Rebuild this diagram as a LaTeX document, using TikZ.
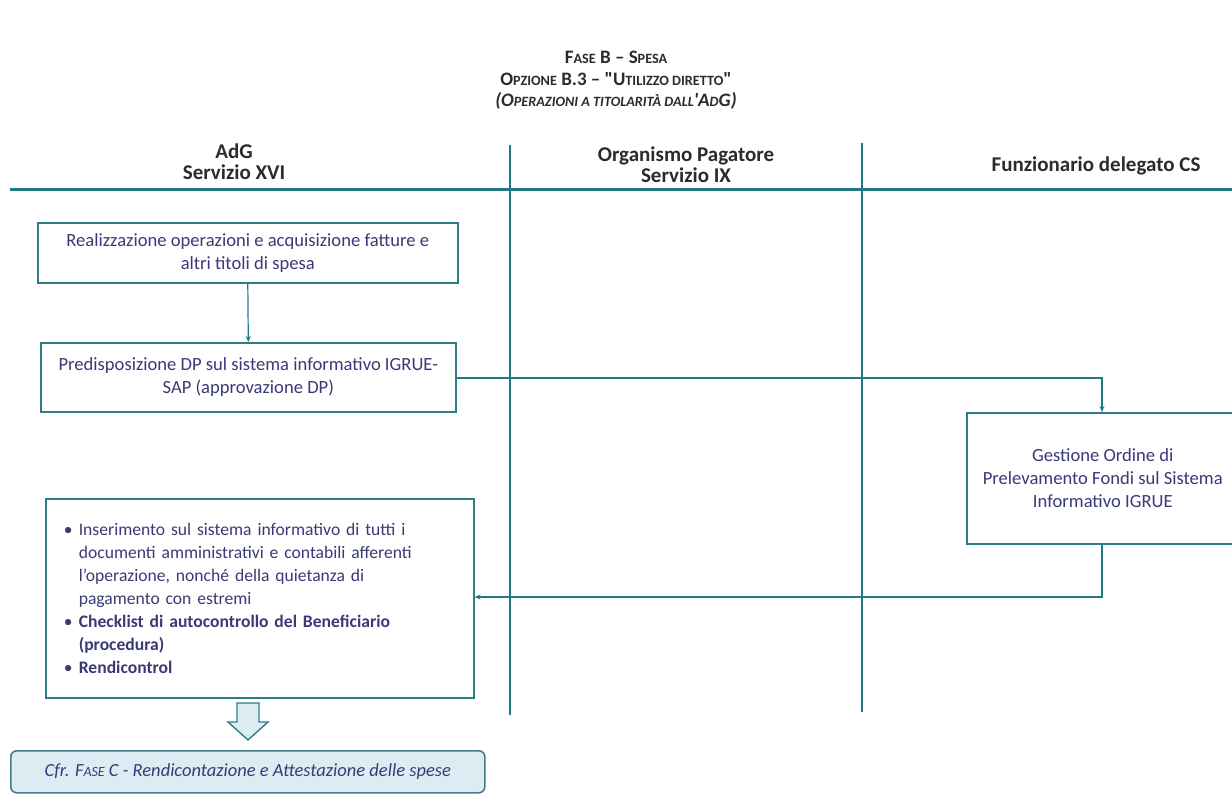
\documentclass[tikz,border=0pt]{standalone}
\usepackage{fontspec}
\setmainfont{Carlito}[Ligatures=TeXOff]
\usetikzlibrary{arrows.meta,positioning}
\definecolor{lane}{HTML}{1F7A86}
\definecolor{bord}{HTML}{2E7C84}
\definecolor{txt}{HTML}{3A3A78}
\definecolor{ttl}{HTML}{2B2B2B}
\definecolor{pale}{HTML}{DCECF3}
\newcommand{\smc}[1]{{\fontsize{14.2}{14}\selectfont #1}}
\newcommand{\smcb}[1]{{\fontsize{14}{14}\selectfont #1}}
\tikzset{
  lanefig/.style={line width=2.2pt, draw=lane},
  stepbox/.style={draw=bord, line width=1.6pt, fill=white, text=txt, align=center,
    font=\fontsize{18.6}{23}\selectfont, anchor=north west, inner sep=0pt},
  hdr/.style={font=\bfseries\fontsize{21}{21}\selectfont, text=ttl, align=center},
  ttlfont/.style={font=\bfseries\fontsize{19}{20}\selectfont, text=ttl},
  conn/.style={draw=lane, line width=1.2pt, -{Stealth[length=6pt,width=5pt]}},
}
\begin{document}
\begin{tikzpicture}[x=1pt,y=-1pt]
\useasboundingbox (0,0) rectangle (1232,794);
% titles
\node[ttlfont] (t1) at (616,57) {F\smc{ASE} B – S\smc{PESA}};
\node[ttlfont] (t2) at (616,79) {O\smc{PZIONE} B.3 – "U\smc{TILIZZO DIRETTO}"};
\node[ttlfont, font=\bfseries\itshape\fontsize{19}{20}\selectfont] (t3) at (616,101) {(O\smc{PERAZIONI A TITOLARITÀ DALL}'A\smc{D}G)};
% lanes
\coordinate (hl) at (10,190);
\coordinate (hr) at (1232,190);
\draw[line width=3pt, draw=lane] (hl) -- (hr);
\coordinate (v1t) at (510,145);
\coordinate (v1b) at (510,715);
\coordinate (v2t) at (862,143);
\coordinate (v2b) at (862,712);
\draw[lanefig] (v1t) -- (v1b);
\draw[lanefig] (v2t) -- (v2b);
% headers
\node[hdr] (h1) at (234,162) {AdG\\Servizio XVI};
\node[hdr] (h2) at (686,165) {Organismo Pagatore\\Servizio IX};
\node[hdr] (h3) at (1096,166) {Funzionario delegato CS};
% boxes
\node[stepbox, minimum width=420pt, minimum height=60pt] (b1) at (37,222)
  {Realizzazione operazioni e acquisizione fatture e\\altri titoli di spesa};
\node[stepbox, minimum width=415pt, minimum height=69pt] (b2) at (40,342)
  {Predisposizione DP sul sistema informativo IGRUE-\\SAP (approvazione DP)};
\node[stepbox, minimum width=272pt, minimum height=131pt] (b3) at (966,412)
  {Gestione Ordine di\\Prelevamento Fondi sul Sistema\\Informativo IGRUE};
\node[stepbox, minimum width=428pt, minimum height=199pt, align=left, text width=392pt, inner xsep=18pt,
  font=\fontsize{17.6}{23}\selectfont] (b4) at (45,498)
  {\makebox[15pt][l]{\textbullet}Inserimento sul sistema informativo di tutti i\\
   \hspace*{15pt}documenti amministrativi e contabili afferenti\\
   \hspace*{15pt}l’operazione, nonché della quietanza di\\
   \hspace*{15pt}pagamento con estremi\\
   \makebox[15pt][l]{\textbullet}\textbf{Checklist di autocontrollo del Beneficiario}\\
   \hspace*{15pt}\textbf{(procedura)}\\
   \makebox[15pt][l]{\textbullet}\textbf{Rendicontrol}};
% connectors
\draw[conn] (b1.south) -- (b2.north);
\coordinate (c1) at (1102,378);
\draw[conn] (b2.east |- c1) -- (c1) -- (c1 |- b3.north);
\coordinate (c2) at (1102,597);
\draw[conn] (c2 |- b3.south) -- (c2) -- (b4.east |- c2);
% block arrow
\draw[draw=bord, line width=1.4pt, fill=pale, line join=miter]
  (237,703) -- (259,703) -- (259,722) -- (268,722) -- (248,740) -- (228,722) -- (237,722) -- cycle;
% final box
\node[draw=bord!70!gray, line width=1.6pt, fill=pale, rounded corners=6pt, anchor=north west,
  minimum width=474pt, minimum height=42pt, inner sep=0pt, text=txt,
  font=\itshape\fontsize{18.5}{20}\selectfont] (b5) at (10,750)
  {Cfr. F\smcb{ASE} C - Rendicontazione e Attestazione delle spese};
\end{tikzpicture}
\end{document}
